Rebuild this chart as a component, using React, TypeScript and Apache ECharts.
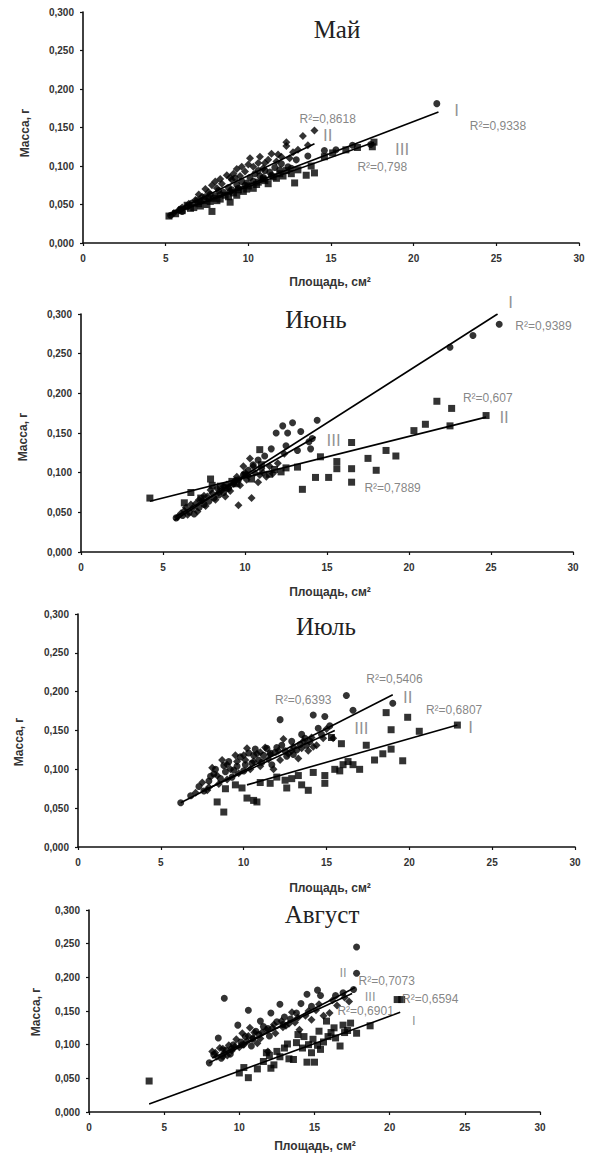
import React, { useEffect, useRef } from "react";
import * as echarts from "echarts";

// ---------- DATA ----------
const months = ["Май", "Июнь", "Июль", "Август"];
const xTickStep = 5;
const yTickStep = 0.05;

// May
const mayI = [[5.3,0.036],[5.9,0.044],[6.3,0.047],[6.6,0.052],[7.1,0.054],[7.4,0.060],[7.7,0.063],[8.0,0.061],[8.2,0.068],[8.5,0.066],[8.8,0.072],[9.0,0.069],[9.3,0.076],[9.6,0.080],[9.9,0.078],[10.1,0.085],[10.4,0.090],[10.7,0.087],[11.0,0.094],[11.3,0.092],[11.6,0.098],[12.0,0.103],[12.4,0.099],[12.9,0.108],[13.6,0.113],[14.6,0.120],[15.3,0.121],[16.3,0.127],[17.4,0.128],[21.4,0.181],
  [6.0,0.041],[6.9,0.055],[7.6,0.058],[8.3,0.063],[8.9,0.067],[9.4,0.071],[9.8,0.075],[10.3,0.080],[10.9,0.085],[11.4,0.088],[11.9,0.095],[12.6,0.097],[9.2,0.084],[10.6,0.094]];
const mayII = [[5.5,0.039],[6.0,0.046],[6.4,0.051],[6.8,0.056],[7.2,0.060],[7.6,0.066],[7.8,0.075],[8.1,0.071],[8.4,0.077],[8.7,0.088],[9.0,0.082],[9.3,0.096],[9.5,0.087],[9.8,0.093],[10.1,0.110],[10.3,0.099],[10.6,0.104],[10.9,0.097],[11.2,0.108],[11.4,0.116],[11.7,0.106],[12.0,0.112],[12.3,0.131],[12.3,0.126],[12.7,0.118],[13.0,0.121],[13.3,0.139],[14.0,0.146],[13.6,0.127],
  [5.8,0.043],[7.0,0.063],[7.4,0.070],[8.0,0.080],[8.9,0.085],[9.6,0.099],[10.0,0.102],[10.7,0.112],[11.0,0.104],[11.8,0.115],[12.5,0.110],[9.1,0.090],[8.3,0.083]];
const mayIII = [[5.2,0.035],[5.6,0.038],[6.0,0.042],[6.3,0.049],[6.7,0.046],[7.0,0.051],[7.3,0.055],[7.5,0.050],[7.8,0.041],[7.9,0.058],[8.3,0.057],[8.6,0.062],[8.9,0.053],[9.1,0.065],[9.4,0.069],[9.7,0.067],[10.0,0.074],[10.3,0.071],[10.6,0.079],[10.9,0.083],[11.2,0.077],[11.5,0.086],[11.9,0.090],[12.3,0.094],[12.8,0.078],[13.5,0.088],[14.0,0.091],[14.6,0.112],[15.1,0.117],[15.9,0.121],[16.6,0.124],[17.5,0.125],[17.6,0.131],
  [6.5,0.045],[7.1,0.048],[7.7,0.054],[8.1,0.055],[8.8,0.060],[9.3,0.062],[9.9,0.070],[10.5,0.076],[11.0,0.081],[11.7,0.084],[12.1,0.087],[12.6,0.090],[13.0,0.095],[13.8,0.100]];
const mayTrendI = [[5.2,0.036],[21.5,0.170]];
const mayTrendII = [[5.4,0.040],[14.0,0.129]];
const mayTrendIII = [[5.2,0.037],[17.6,0.131]];
const mayNotes = [["I",22.6,0.172],["R²=0,9338",25.1,0.152],["II",14.8,0.139],["R²=0,8618",14.8,0.161],["III",19.3,0.122],["R²=0,798",18.1,0.099]];
const maySymbols = ["circle", "diamond", "rect"];

// June
const junI = [[5.8,0.043],[6.2,0.046],[6.6,0.050],[6.9,0.048],[7.2,0.056],[7.5,0.060],[7.8,0.064],[8.1,0.068],[8.4,0.072],[8.7,0.075],[9.0,0.080],[9.3,0.086],[9.6,0.091],[9.9,0.097],[10.2,0.103],[10.5,0.110],[10.8,0.116],[11.2,0.121],[11.6,0.130],[11.9,0.150],[12.3,0.159],[12.5,0.134],[12.6,0.150],[12.9,0.163],[13.2,0.128],[13.4,0.152],[13.9,0.139],[14.1,0.143],[14.0,0.130],[14.4,0.166],[22.5,0.258],[23.9,0.273],[25.5,0.287]];
const junII = [[4.2,0.068],[6.7,0.075],[7.9,0.092],[8.5,0.083],[9.2,0.089],[10.0,0.097],[10.9,0.129],[11.5,0.098],[12.2,0.101],[13.2,0.107],[13.5,0.079],[14.3,0.094],[14.6,0.120],[15.1,0.094],[15.6,0.114],[15.6,0.105],[16.5,0.138],[16.5,0.105],[16.5,0.088],[17.5,0.118],[18.0,0.103],[18.6,0.128],[19.2,0.121],[20.3,0.153],[21.0,0.161],[21.7,0.190],[22.5,0.159],[22.6,0.181],[24.7,0.172],
  [6.3,0.062],[7.3,0.068],[8.0,0.084],[8.8,0.081],[9.5,0.086],[10.4,0.092],[11.0,0.110],[11.8,0.104],[12.5,0.106]];
const junIII = [[5.9,0.044],[6.3,0.052],[6.5,0.047],[6.8,0.055],[7.0,0.061],[7.1,0.051],[7.4,0.065],[7.6,0.058],[7.7,0.070],[8.0,0.074],[8.2,0.066],[8.3,0.080],[8.6,0.078],[8.8,0.070],[8.9,0.085],[9.1,0.077],[9.4,0.090],[9.6,0.059],[9.7,0.084],[9.9,0.108],[10.1,0.091],[10.3,0.118],[10.4,0.068],[10.6,0.100],[10.8,0.088],[11.0,0.105],[11.3,0.095],[11.7,0.099],[12.0,0.112],[12.4,0.124],
  [6.1,0.049],[6.4,0.056],[6.7,0.060],[7.2,0.066],[7.5,0.071],[7.9,0.078],[8.4,0.075],[8.7,0.083],[9.0,0.081],[9.3,0.086],[9.5,0.095],[10.0,0.100],[10.2,0.096],[10.5,0.108],[10.9,0.097],[11.1,0.100],[11.5,0.108]];
const junTrendI = [[5.7,0.040],[25.4,0.300]];
const junTrendII = [[4.2,0.064],[24.7,0.170]];
const junTrendIII = [[5.8,0.045],[14.3,0.145]];
const junNotes = [["I",26.2,0.315],["R²=0,9389",28.2,0.285],["R²=0,607",24.8,0.194],["II",25.8,0.169],["III",15.4,0.141],["R²=0,7889",19.0,0.081]];
const junSymbols = ["circle", "rect", "diamond"];

// July
const julI = [[8.4,0.058],[8.8,0.045],[8.9,0.075],[9.5,0.080],[10.2,0.063],[10.6,0.060],[10.8,0.058],[11.6,0.082],[12.0,0.090],[12.5,0.086],[12.6,0.076],[13.3,0.092],[13.5,0.080],[13.9,0.073],[14.9,0.092],[14.9,0.082],[15.3,0.141],[15.5,0.100],[15.9,0.133],[16.0,0.106],[16.6,0.106],[17.0,0.100],[17.4,0.131],[17.9,0.112],[18.4,0.120],[18.6,0.173],[18.9,0.126],[18.9,0.151],[19.6,0.111],[19.9,0.167],[20.6,0.149],[22.9,0.157],
  [9.9,0.076],[11.0,0.083],[12.9,0.088],[14.2,0.096],[15.8,0.098],[16.3,0.110]];
const julII = [[6.2,0.057],[6.8,0.066],[7.3,0.078],[7.6,0.072],[7.9,0.085],[8.2,0.094],[8.3,0.100],[8.6,0.088],[8.9,0.097],[9.1,0.110],[9.3,0.090],[9.6,0.104],[9.8,0.116],[10.0,0.098],[10.3,0.121],[10.5,0.108],[10.7,0.126],[10.9,0.112],[11.2,0.118],[11.4,0.127],[11.7,0.106],[11.9,0.122],[12.2,0.164],[12.3,0.131],[12.6,0.117],[12.9,0.136],[13.2,0.125],[13.5,0.145],[13.8,0.131],[14.2,0.170],[14.5,0.153],[14.9,0.168],[16.2,0.195],[16.6,0.176],[19.0,0.185],
  [8.0,0.091],[8.8,0.105],[9.4,0.099],[10.1,0.106],[10.6,0.118],[11.1,0.109],[11.6,0.121],[12.0,0.128],[12.5,0.124],[13.0,0.119],[13.4,0.132],[13.7,0.140],[14.0,0.136],[14.7,0.145],[15.2,0.156]];
const julIII = [[7.1,0.070],[7.5,0.083],[7.9,0.077],[8.1,0.102],[8.5,0.081],[8.7,0.112],[9.0,0.087],[9.2,0.100],[9.5,0.118],[9.7,0.095],[10.1,0.112],[10.2,0.127],[10.4,0.100],[10.8,0.120],[11.0,0.104],[11.3,0.128],[11.5,0.113],[11.8,0.100],[12.1,0.124],[12.4,0.139],[12.7,0.120],[13.0,0.129],[13.3,0.114],[13.6,0.136],[13.9,0.124],[14.1,0.141],[14.4,0.131],[14.8,0.140],[15.0,0.152],
  [7.8,0.073],[8.4,0.092],[9.0,0.106],[9.6,0.110],[10.0,0.118],[10.6,0.110],[11.0,0.122],[11.6,0.119],[12.2,0.112],[12.9,0.124],[13.5,0.127],[14.2,0.129],[15.4,0.140]];
const julTrendI = [[10.2,0.080],[22.9,0.157]];
const julTrendII = [[6.2,0.057],[19.0,0.196]];
const julTrendIII = [[7.5,0.072],[15.5,0.150]];
const julNotes = [["R²=0,5406",19.1,0.216],["II",19.9,0.192],["R²=0,6393",13.6,0.189],["R²=0,6807",22.7,0.176],["I",23.7,0.154],["III",17.1,0.152]];
const julSymbols = ["rect", "circle", "diamond"];

// August
const augI = [[4.0,0.046],[10.0,0.058],[10.3,0.066],[10.6,0.051],[11.2,0.064],[11.6,0.075],[11.8,0.088],[12.1,0.065],[12.3,0.070],[12.7,0.082],[13.2,0.101],[13.3,0.079],[13.6,0.078],[13.9,0.115],[14.2,0.095],[14.5,0.074],[14.6,0.100],[14.9,0.108],[15.0,0.074],[15.3,0.120],[15.4,0.093],[15.6,0.104],[15.8,0.135],[16.1,0.118],[16.4,0.110],[16.7,0.098],[16.9,0.129],[17.2,0.121],[17.4,0.132],[17.8,0.117],[18.7,0.128],[20.5,0.167],[20.8,0.167],
  [12.5,0.090],[13.0,0.095],[13.8,0.103],[14.3,0.112],[15.2,0.099],[15.9,0.112],[16.3,0.125],[17.0,0.118],[14.8,0.088],[12.0,0.084]];
const augII = [[8.0,0.073],[8.3,0.085],[8.6,0.110],[8.8,0.080],[9.0,0.169],[9.1,0.092],[9.4,0.086],[9.6,0.100],[9.9,0.129],[10.1,0.104],[10.4,0.112],[10.6,0.151],[10.8,0.098],[11.1,0.120],[11.4,0.135],[11.6,0.127],[12.0,0.113],[12.1,0.147],[12.5,0.134],[12.7,0.160],[13.0,0.141],[13.4,0.138],[14.1,0.161],[14.5,0.175],[15.2,0.181],[15.4,0.173],[16.4,0.173],[16.9,0.177],[17.6,0.182],[17.8,0.206],[17.8,0.245],
  [8.9,0.083],[9.5,0.094],[10.2,0.100],[10.9,0.108],[11.3,0.115],[11.9,0.124],[12.9,0.130],[13.8,0.147],[14.8,0.157]];
const augIII = [[8.2,0.090],[8.5,0.082],[8.7,0.095],[9.0,0.088],[9.3,0.099],[9.5,0.091],[9.8,0.108],[10.0,0.096],[10.2,0.117],[10.5,0.105],[10.7,0.125],[10.9,0.110],[11.2,0.102],[11.5,0.118],[11.9,0.090],[12.2,0.125],[12.4,0.117],[12.8,0.135],[13.1,0.128],[13.5,0.148],[13.7,0.133],[14.0,0.122],[14.4,0.143],[14.8,0.137],[15.1,0.151],[15.6,0.143],[16.0,0.147],[16.5,0.158],[17.0,0.170],[17.3,0.164],
  [8.4,0.088],[8.9,0.094],[9.2,0.084],[9.7,0.097],[10.3,0.100],[10.6,0.113],[11.0,0.118],[11.4,0.109],[11.8,0.122],[12.3,0.130],[12.9,0.126],[13.3,0.131],[13.9,0.140],[14.6,0.150],[15.3,0.160],[16.2,0.166]];
const augTrendI = [[4.0,0.012],[20.7,0.148]];
const augTrendII = [[8.0,0.073],[17.7,0.185]];
const augTrendIII = [[8.2,0.080],[17.5,0.176]];
const augNotes = [["II",16.9,0.207],["R²=0,7073",19.8,0.195],["III",18.7,0.171],["R²=0,6901",18.4,0.150],["R²=0,6594",22.7,0.168],["I",21.6,0.136]];
const augSymbols = ["rect", "circle", "diamond"];

const panelsData = [
  { I: mayI, II: mayII, III: mayIII, tI: mayTrendI, tII: mayTrendII, tIII: mayTrendIII, notes: mayNotes, sym: maySymbols, roman: 17 },
  { I: junI, II: junII, III: junIII, tI: junTrendI, tII: junTrendII, tIII: junTrendIII, notes: junNotes, sym: junSymbols, roman: 17 },
  { I: julI, II: julII, III: julIII, tI: julTrendI, tII: julTrendII, tIII: julTrendIII, notes: julNotes, sym: julSymbols, roman: 17 },
  { I: augI, II: augII, III: augIII, tI: augTrendI, tII: augTrendII, tIII: augTrendIII, notes: augNotes, sym: augSymbols, roman: 13 },
];

// ---------- LAYOUT ----------
const grids = [
  { left: 83, top: 12, width: 496, height: 231 },
  { left: 81, top: 314, width: 492, height: 238 },
  { left: 78, top: 614, width: 497, height: 233 },
  { left: 89, top: 910, width: 451, height: 202 },
];
const titlePos = [[332, 27], [311, 317], [321, 624], [317, 912]];
const yTitlePos = [[25, 133], [23, 437], [19, 742], [36, 1012]];
const xTitlePos = [[330, 282], [330, 592], [330, 888], [315, 1146]];
const symbolSizes: Record<string, number> = { circle: 7, diamond: 8, rect: 7 };

const SANS = "Liberation Sans, Arial, sans-serif";
const SERIF = "Liberation Serif, Times New Roman, serif";

export default function App() {
  const ref = useRef<HTMLDivElement>(null);
  useEffect(() => {
    if (!ref.current) return;
    const chart = echarts.init(ref.current, null, { renderer: "svg" });

    const xAxis: any[] = [];
    const yAxis: any[] = [];
    const series: any[] = [];
    const graphic: any[] = [];
    const title: any[] = [];

    panelsData.forEach((p, i) => {
      const axisLine = { show: true, lineStyle: { color: "#111", width: 1.6 } };
      const axisTick = { show: true, length: 3, lineStyle: { color: "#111", width: 1.2 } };
      xAxis.push({
        type: "value", gridIndex: i, min: 0, max: 30, interval: xTickStep,
        axisLine, axisTick, splitLine: { show: false },
        axisLabel: { margin: 10, fontSize: 10, fontWeight: "bold", color: "#333", fontFamily: SANS },
      });
      yAxis.push({
        type: "value", gridIndex: i, min: 0, max: 0.3, interval: yTickStep,
        axisLine, axisTick, splitLine: { show: false },
        axisLabel: {
          margin: 9, fontSize: 10, fontWeight: "bold", color: "#333", fontFamily: SANS,
          formatter: (v: number) => v.toFixed(3).replace(".", ","),
        },
      });
      const base = { xAxisIndex: i, yAxisIndex: i };
      [p.I, p.II, p.III].forEach((d, k) => {
        const s = p.sym[k];
        series.push({ ...base, type: "scatter", name: ["I", "II", "III"][k], data: d, symbol: s, symbolSize: symbolSizes[s], itemStyle: { color: "#000" } });
      });
      [p.tI, p.tII, p.tIII].forEach((t) => {
        series.push({ ...base, type: "line", data: t, showSymbol: false, symbol: "none", lineStyle: { color: "#000", width: 1.6 }, z: 3 });
      });
      series.push({
        ...base, type: "scatter", clip: false, symbolSize: 0, z: 5,
        data: p.notes.map((n: any) => {
          const isR = String(n[0]).startsWith("R");
          return {
            name: n[0], value: [n[1], n[2]],
            label: {
              show: true, position: "inside", formatter: "{b}",
              fontFamily: SANS, color: isR ? "#666" : "#777",
              fontSize: isR ? 12 : p.roman,
            },
          };
        }),
      });

      title.push({
        text: months[i], left: titlePos[i][0], top: titlePos[i][1] - 15, textAlign: "center",
        textStyle: { fontFamily: SERIF, fontSize: 25, fontWeight: "normal", color: "#222" },
      });
      graphic.push({
        type: "text", x: yTitlePos[i][0], y: yTitlePos[i][1], rotation: Math.PI / 2,
        style: { text: "Масса, г", font: `bold 12px ${SANS}`, fill: "#333", align: "center", verticalAlign: "middle" },
      });
      graphic.push({
        type: "text", x: xTitlePos[i][0], y: xTitlePos[i][1],
        style: { text: "Площадь, см²", font: `bold 12px ${SANS}`, fill: "#333", align: "center", verticalAlign: "middle" },
      });
    });

    chart.setOption({
      animation: false,
      backgroundColor: "#fff",
      title,
      grid: grids.map((g) => ({ ...g, containLabel: false })),
      xAxis,
      yAxis,
      series,
      graphic,
    });
    return () => chart.dispose();
  }, []);

  return (
    <div
      ref={ref}
      style={{ position: "absolute", left: 0, top: 0, width: 591, height: 1156, background: "#fff" }}
    />
  );
}
